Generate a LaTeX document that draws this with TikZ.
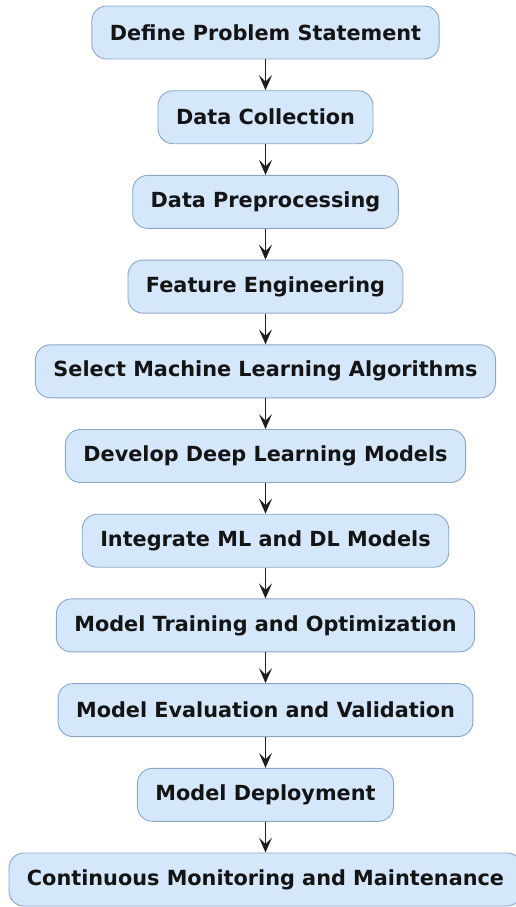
\documentclass[tikz,border=0pt]{standalone}
\usepackage{fontspec}
\setmainfont{DejaVu Sans}
\usetikzlibrary{arrows.meta}
\definecolor{boxfill}{RGB}{213,231,251}
\definecolor{boxline}{RGB}{140,166,200}
\definecolor{arrowcol}{RGB}{30,30,30}
\tikzset{
  stepbox/.style={draw=boxline, fill=boxfill, line width=0.9pt, rounded corners=15pt,
    minimum height=53pt, inner xsep=18pt, inner ysep=0pt,
    font=\fontsize{20.8}{24}\selectfont\bfseries, text=black!92, anchor=center},
  flow/.style={draw=arrowcol, line width=1.5pt,
    -{Stealth[length=15pt,width=13pt,inset=6.5pt]}}
}
\begin{document}
\begin{tikzpicture}[x=1pt,y=1pt]
\useasboundingbox (0,0) rectangle (516,-907);
\clip (0,0) rectangle (516,-907);
\node[stepbox] (n1) at (265.5,-32.5) {Define Problem Statement};
\node[stepbox] (n2) at (265.5,-117.2) {Data Collection};
\node[stepbox] (n3) at (265.5,-201.9) {Data Preprocessing};
\node[stepbox] (n4) at (265.5,-286.6) {Feature Engineering};
\node[stepbox] (n5) at (265.5,-371.3) {Select Machine Learning Algorithms};
\node[stepbox] (n6) at (265.5,-456.0) {Develop Deep Learning Models};
\node[stepbox] (n7) at (265.5,-540.7) {Integrate ML and DL Models};
\node[stepbox] (n8) at (265.5,-625.4) {Model Training and Optimization};
\node[stepbox] (n9) at (265.5,-710.1) {Model Evaluation and Validation};
\node[stepbox] (n10) at (265.5,-794.8) {Model Deployment};
\node[stepbox] (n11) at (265.5,-879.5) {Continuous Monitoring and Maintenance};
\foreach \a/\b in {n1/n2,n2/n3,n3/n4,n4/n5,n5/n6,n6/n7,n7/n8,n8/n9,n9/n10,n10/n11}
  \draw[flow] (\a.south) -- (\b.north);
\end{tikzpicture}
\end{document}
